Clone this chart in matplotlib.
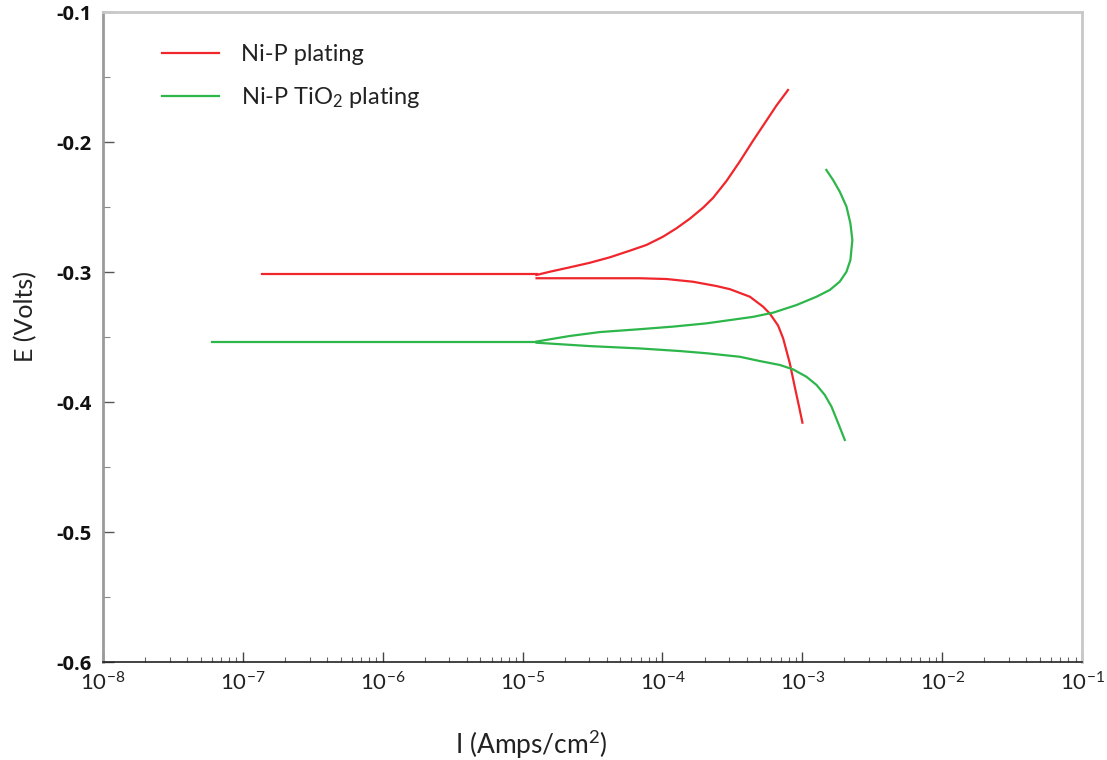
import matplotlib
matplotlib.use("Agg")
import matplotlib.pyplot as plt
import numpy as np
from matplotlib.ticker import LogLocator, FixedLocator, FuncFormatter, NullFormatter

plt.rcParams['font.family'] = ['Lato', 'DejaVu Sans']
plt.rcParams['mathtext.fontset'] = 'custom'
plt.rcParams['mathtext.rm'] = 'Lato'
plt.rcParams['mathtext.it'] = 'Lato'

# log10 of current density (A/cm^2) and potential (V)
nip_flat_logi = [-6.863, -4.90]
nip_flat_e = [-0.3015, -0.3015]

nip_anodic_logi = [-4.901, -4.805, -4.662, -4.519, -4.376, -4.233, -4.114, -3.995,
                   -3.900, -3.804, -3.709, -3.638, -3.542, -3.447, -3.352, -3.256,
                   -3.185, -3.102]
nip_anodic_e = [-0.3023, -0.2998, -0.2964, -0.2929, -0.2887, -0.2836, -0.2792, -0.2728,
                -0.2664, -0.2590, -0.2505, -0.2430, -0.2300, -0.2150, -0.1990, -0.1835,
                -0.1720, -0.1600]

nip_cathodic_logi = [-4.90, -4.162, -3.971, -3.781, -3.614, -3.518, -3.375,
                     -3.280, -3.232, -3.173, -3.137, -3.089, -3.054, -3.023, -2.999]
nip_cathodic_e = [-0.3048, -0.3048, -0.3054, -0.3075, -0.3108, -0.3132, -0.3190,
                  -0.3267, -0.3320, -0.3412, -0.3510, -0.3703, -0.3882, -0.4036, -0.4159]

tio2_flat_logi = [-7.221, -4.90]
tio2_flat_e = [-0.354, -0.354]

tio2_anodic_logi = [-4.90, -4.662, -4.447, -4.162, -3.923, -3.685, -3.518, -3.352,
                    -3.209, -3.041, -2.898, -2.803, -2.732, -2.684, -2.656, -2.642,
                    -2.656, -2.684, -2.732, -2.780, -2.828]
tio2_anodic_e = [-0.3535, -0.3492, -0.3462, -0.3440, -0.3420, -0.3395, -0.3370, -0.3345,
                 -0.3313, -0.3254, -0.3190, -0.3138, -0.3074, -0.2998, -0.2908, -0.2754,
                 -0.2626, -0.2497, -0.2382, -0.2292, -0.2215]

tio2_cathodic_logi = [-4.90, -4.519, -4.162, -3.876, -3.685, -3.447, -3.304, -3.161,
                      -3.066, -2.970, -2.898, -2.839, -2.791, -2.743, -2.696]
tio2_cathodic_e = [-0.3544, -0.3570, -0.3588, -0.3608, -0.3625, -0.3652, -0.3685, -0.3715,
                   -0.3749, -0.3806, -0.3869, -0.3946, -0.4036, -0.4164, -0.4292]

red = '#f0262c'
green = '#2db64a'

fig = plt.figure(figsize=(11.07, 7.6), dpi=100)
ax = fig.add_axes([103 / 1107, 1 - 662 / 760, 979 / 1107, 650 / 760])

ax.plot(10 ** np.array(nip_flat_logi), nip_flat_e, color=red, lw=1.6, label='Ni-P plating')
ax.plot(10 ** np.array(nip_anodic_logi), nip_anodic_e, color=red, lw=1.6)
ax.plot(10 ** np.array(nip_cathodic_logi), nip_cathodic_e, color=red, lw=1.6)
ax.plot(10 ** np.array(tio2_flat_logi), tio2_flat_e, color=green, lw=1.6, label='Ni-P TiO$_2$ plating')
ax.plot(10 ** np.array(tio2_anodic_logi), tio2_anodic_e, color=green, lw=1.6)
ax.plot(10 ** np.array(tio2_cathodic_logi), tio2_cathodic_e, color=green, lw=1.6)

ax.set_xscale('log')
ax.set_xlim(1e-8, 1e-1)
ax.set_ylim(-0.6, -0.1)

ax.xaxis.set_major_locator(FixedLocator([1e-8, 1e-7, 1e-6, 1e-5, 1e-4, 1e-3, 1e-2, 1e-1]))
ax.xaxis.set_minor_locator(LogLocator(base=10, subs=np.arange(2, 10), numticks=100))
ax.xaxis.set_major_formatter(FuncFormatter(lambda v, p: r'$10^{%d}$' % round(np.log10(v))))
ax.xaxis.set_minor_formatter(NullFormatter())
ax.yaxis.set_major_locator(FixedLocator([-0.6, -0.5, -0.4, -0.3, -0.2, -0.1]))
ax.yaxis.set_minor_locator(FixedLocator([-0.55, -0.45, -0.35, -0.25, -0.15]))
ax.yaxis.set_major_formatter(FuncFormatter(lambda v, p: '%.1f' % v))

ax.tick_params(axis='x', which='major', direction='in', length=7, width=1, color='#444',
               labelsize=16, pad=7, labelcolor='#222')
ax.tick_params(axis='x', which='minor', direction='in', length=3.5, width=0.8, color='#666')
ax.tick_params(axis='y', which='major', direction='in', length=8, width=1, color='#555',
               labelsize=14.5, pad=8, labelcolor='#111')
ax.tick_params(axis='y', which='minor', direction='in', length=5, width=0.8, color='#888')
for lab in ax.get_yticklabels():
    lab.set_fontweight('bold')
    lab.set_family(['Open Sans', 'DejaVu Sans'])

ax.spines['left'].set_color('#9a9a9a')
ax.spines['left'].set_linewidth(2)
ax.spines['bottom'].set_color('#222')
ax.spines['bottom'].set_linewidth(1.2)
ax.spines['top'].set_color('#c8c8c8')
ax.spines['top'].set_linewidth(2)
ax.spines['right'].set_color('#c8c8c8')
ax.spines['right'].set_linewidth(2)

ax.set_xlabel('I (Amps/cm$^2$)', fontsize=19, color='#222')
ax.xaxis.set_label_coords((531 - 103) / 979, (662 - 728) / 650)
ax.set_ylabel('E (Volts)', fontsize=18, color='#222')
ax.yaxis.set_label_coords((37 - 103) / 979, (662 - 316) / 650)

ax.legend(loc='upper left', bbox_to_anchor=(162 / 1107, 1 - 44 / 760),
          bbox_transform=fig.transFigure, frameon=False, fontsize=17,
          handlelength=2.4, handletextpad=0.95, labelspacing=0.85,
          borderpad=0, borderaxespad=0, labelcolor='#222')

fig.savefig('out.png', dpi=100)
